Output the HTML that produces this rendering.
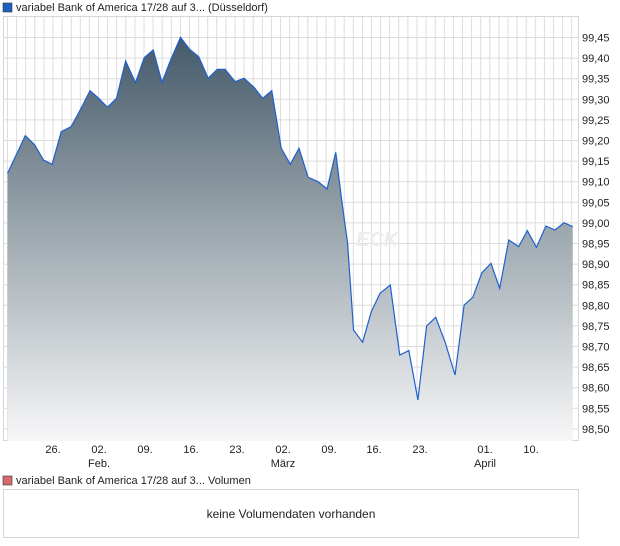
<!DOCTYPE html>
<html><head><meta charset="utf-8"><style>
html,body{margin:0;padding:0;background:#fff;width:620px;height:546px;overflow:hidden}
text{font-family:"Liberation Sans",sans-serif;fill:#222}
</style></head><body>
<svg width="620" height="546" xmlns="http://www.w3.org/2000/svg">
<defs>
<linearGradient id="g" x1="0" y1="0" x2="0" y2="1">
<stop offset="0" stop-color="#44596a"/>
<stop offset="0.45" stop-color="#97a3aa"/>
<stop offset="1" stop-color="#f7f7f8"/>
</linearGradient>
<pattern id="vg" x="7" y="0" width="9.1" height="600" patternUnits="userSpaceOnUse">
<line x1="0.5" y1="0" x2="0.5" y2="600" stroke="#dcdcdc" stroke-width="1"/>
</pattern>
</defs>
<rect x="0" y="0" width="620" height="546" fill="#fff"/>
<rect x="3" y="3" width="9" height="9" fill="#1f5fbf" stroke="#333" stroke-width="0.6"/>
<text x="16" y="11" font-size="11">variabel Bank of America 17/28 auf 3... (Düsseldorf)</text>
<rect x="3.5" y="16.5" width="575" height="424" fill="url(#vg)" stroke="#d6d6d6"/>
<g stroke="#dcdcdc" stroke-width="1">
<line x1="4" x2="578" y1="37.5" y2="37.5"/><line x1="4" x2="578" y1="58.1" y2="58.1"/><line x1="4" x2="578" y1="78.7" y2="78.7"/><line x1="4" x2="578" y1="99.3" y2="99.3"/><line x1="4" x2="578" y1="119.9" y2="119.9"/><line x1="4" x2="578" y1="140.5" y2="140.5"/><line x1="4" x2="578" y1="161.1" y2="161.1"/><line x1="4" x2="578" y1="181.7" y2="181.7"/><line x1="4" x2="578" y1="202.3" y2="202.3"/><line x1="4" x2="578" y1="222.9" y2="222.9"/><line x1="4" x2="578" y1="243.5" y2="243.5"/><line x1="4" x2="578" y1="264.1" y2="264.1"/><line x1="4" x2="578" y1="284.7" y2="284.7"/><line x1="4" x2="578" y1="305.3" y2="305.3"/><line x1="4" x2="578" y1="325.9" y2="325.9"/><line x1="4" x2="578" y1="346.5" y2="346.5"/><line x1="4" x2="578" y1="367.1" y2="367.1"/><line x1="4" x2="578" y1="387.7" y2="387.7"/><line x1="4" x2="578" y1="408.3" y2="408.3"/><line x1="4" x2="578" y1="428.9" y2="428.9"/>
</g>
<text x="356" y="246" font-size="20" font-style="italic" font-weight="bold" style="fill:#efebe8">ECK</text>
<g transform="scale(0.395,0.33333)">
<polygon fill="url(#g)" points="19,1323 19,520 64,407 88,435 110,480 132,493 155,395 180,380 203,330 228,272 250,295 272,322 295,295 318,183 343,248 365,173 388,150 410,247 432,180 457,112 480,148 503,170 527,235 550,208 570,208 595,245 618,235 643,262 665,295 688,272 712,445 735,493 757,445 780,532 805,545 828,567 850,457 865,600 880,730 895,990 918,1027 940,935 962,880 988,855 1012,1065 1035,1052 1058,1200 1080,978 1103,952 1127,1027 1152,1125 1175,915 1197,892 1220,818 1243,790 1265,865 1288,720 1313,740 1335,692 1358,742 1382,678 1405,690 1428,668 1450,680 1450,1323"/>
<polyline fill="none" stroke="#1f5fcf" stroke-width="1.2" vector-effect="non-scaling-stroke" points="19,520 64,407 88,435 110,480 132,493 155,395 180,380 203,330 228,272 250,295 272,322 295,295 318,183 343,248 365,173 388,150 410,247 432,180 457,112 480,148 503,170 527,235 550,208 570,208 595,245 618,235 643,262 665,295 688,272 712,445 735,493 757,445 780,532 805,545 828,567 850,457 865,600 880,730 895,990 918,1027 940,935 962,880 988,855 1012,1065 1035,1052 1058,1200 1080,978 1103,952 1127,1027 1152,1125 1175,915 1197,892 1220,818 1243,790 1265,865 1288,720 1313,740 1335,692 1358,742 1382,678 1405,690 1428,668 1450,680"/>
</g>
<g font-size="11">
<text x="582" y="41.5">99,45</text><text x="582" y="62">99,40</text><text x="582" y="82.7">99,35</text><text x="582" y="103.3">99,30</text><text x="582" y="123.9">99,25</text><text x="582" y="144.5">99,20</text><text x="582" y="165.1">99,15</text><text x="582" y="185.7">99,10</text><text x="582" y="206.3">99,05</text><text x="582" y="226.9">99,00</text><text x="582" y="247.5">98,95</text><text x="582" y="268.1">98,90</text><text x="582" y="288.7">98,85</text><text x="582" y="309.3">98,80</text><text x="582" y="329.9">98,75</text><text x="582" y="350.5">98,70</text><text x="582" y="371.1">98,65</text><text x="582" y="391.7">98,60</text><text x="582" y="412.3">98,55</text><text x="582" y="432.9">98,50</text>
</g>
<g font-size="11" text-anchor="middle">
<text x="53" y="453">26.</text><text x="99" y="453">02.</text><text x="145" y="453">09.</text><text x="191" y="453">16.</text><text x="237" y="453">23.</text><text x="283" y="453">02.</text><text x="329" y="453">09.</text><text x="374" y="453">16.</text><text x="420" y="453">23.</text><text x="485" y="453">01.</text><text x="531" y="453">10.</text>
<text x="99" y="467">Feb.</text><text x="283" y="467">März</text><text x="485" y="467">April</text>
</g>
<rect x="3" y="476" width="9" height="9" fill="#d46a6a" stroke="#333" stroke-width="0.6"/>
<text x="16" y="484" font-size="11">variabel Bank of America 17/28 auf 3... Volumen</text>
<rect x="3.5" y="489.5" width="575" height="48" fill="#fff" stroke="#d6d6d6"/>
<text x="291" y="518" font-size="12" text-anchor="middle">keine Volumendaten vorhanden</text>
</svg>
</body></html>
